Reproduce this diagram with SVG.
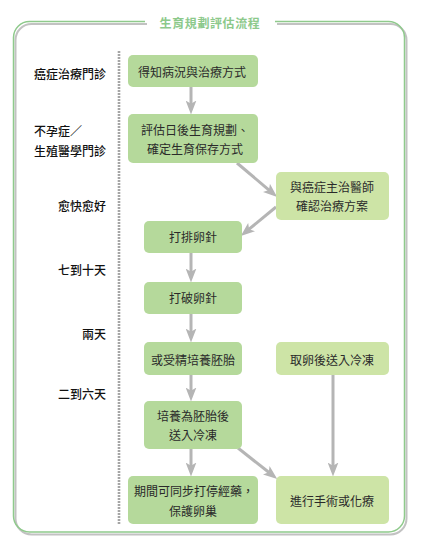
<svg xmlns="http://www.w3.org/2000/svg" width="426" height="550" viewBox="0 0 426 550">
<style>
.frame{fill:none;}
.node-d{fill:#b5d99b;}
.node-l{fill:#cde4a6;}
text{font-family:"Noto Sans CJK TC","Noto Sans CJK SC",sans-serif;font-size:12px;fill:#2a2a2a;dominant-baseline:central;}
.nt{text-anchor:middle;}
.lbl{text-anchor:end;fill:#111;font-weight:500;}
.title{fill:#8cc98b;font-weight:bold;text-anchor:middle;letter-spacing:0.6px;font-size:12px;}
.arr{stroke:#b5b5b5;stroke-width:3;fill:none;marker-end:url(#ah);}
</style>
<defs>
<marker id="ah" markerUnits="userSpaceOnUse" markerWidth="14" markerHeight="11" viewBox="0 0 13 10" refX="6" refY="5" orient="auto">
<path d="M0,0 L13,5 L0,10 L3,5 Z" fill="#b5b5b5"/>
</marker>
<path id="fp" d="M145,21.5 H29.5 A16,16 0 0 0 13.5,37.5 V516 A16,16 0 0 0 29.5,532 H388.5 A16,16 0 0 0 404.5,516 V37.5 A16,16 0 0 0 388.5,21.5 H275"/>
</defs>
<g id="frame">
<use href="#fp" transform="translate(2,2.5)" class="frame" stroke="#c2c2c2" stroke-width="2"/>
<use href="#fp" class="frame" stroke="#8fca8c" stroke-width="1.5"/>
<text class="title" x="210" y="22">生育規劃評估流程</text>
<line x1="119" y1="51" x2="119" y2="524" stroke="#a5a5a5" stroke-width="2.6" stroke-dasharray="2 1"/>
</g>
<g id="labels">
<text class="lbl" x="106" y="73">癌症治療門診</text>
<text class="lbl" x="34" y="130" style="text-anchor:start">不孕症／</text>
<text class="lbl" x="106" y="150">生殖醫學門診</text>
<text class="lbl" x="106" y="205">愈快愈好</text>
<text class="lbl" x="106" y="269">七到十天</text>
<text class="lbl" x="106" y="333">兩天</text>
<text class="lbl" x="106" y="393">二到六天</text>
</g>
<g id="connectors">
<line class="arr" x1="191" y1="87" x2="191" y2="107"/>
<line class="arr" x1="237" y1="163" x2="271.4" y2="192.1"/>
<line class="arr" x1="276" y1="207" x2="246.6" y2="231.2"/>
<line class="arr" x1="191" y1="253" x2="191" y2="275"/>
<line class="arr" x1="191" y1="314" x2="191" y2="335"/>
<line class="arr" x1="191" y1="375" x2="191" y2="394"/>
<line class="arr" x1="191" y1="449" x2="191" y2="469"/>
<line class="arr" x1="238" y1="448" x2="271.3" y2="474.3"/>
<line class="arr" x1="333" y1="375" x2="333" y2="469"/>
</g>
<g id="n1"><rect class="node-d" x="128" y="55" width="130" height="32" rx="5"/><text class="nt" x="192" y="71">得知病況與治療方式</text></g>
<g id="n2"><rect class="node-d" x="128" y="114" width="130" height="49" rx="5"/><text class="nt" x="195" y="129">評估日後生育規劃、</text><text class="nt" x="195" y="148">確定生育保存方式</text></g>
<g id="n3"><rect class="node-l" x="276" y="172" width="113" height="48" rx="5"/><text class="nt" x="332" y="186">與癌症主治醫師</text><text class="nt" x="332" y="205">確認治療方案</text></g>
<g id="n4"><rect class="node-d" x="144" y="221" width="98" height="32" rx="5"/><text class="nt" x="193" y="236">打排卵針</text></g>
<g id="n5"><rect class="node-d" x="144" y="282" width="98" height="32" rx="5"/><text class="nt" x="193" y="297">打破卵針</text></g>
<g id="n6"><rect class="node-d" x="144" y="342" width="98" height="33" rx="5"/><text class="nt" x="193" y="359">或受精培養胚胎</text></g>
<g id="n7"><rect class="node-l" x="276" y="342" width="113" height="33" rx="5"/><text class="nt" x="332" y="359">取卵後送入冷凍</text></g>
<g id="n8"><rect class="node-d" x="144" y="401" width="98" height="48" rx="5"/><text class="nt" x="193" y="415">培養為胚胎後</text><text class="nt" x="193" y="434">送入冷凍</text></g>
<g id="n9"><rect class="node-d" x="128" y="476" width="130" height="48" rx="5"/><text class="nt" x="194" y="490">期間可同步打停經藥，</text><text class="nt" x="193" y="510">保護卵巢</text></g>
<g id="n10"><rect class="node-l" x="276" y="476" width="113" height="48" rx="5"/><text class="nt" x="332" y="500">進行手術或化療</text></g>
</svg>
